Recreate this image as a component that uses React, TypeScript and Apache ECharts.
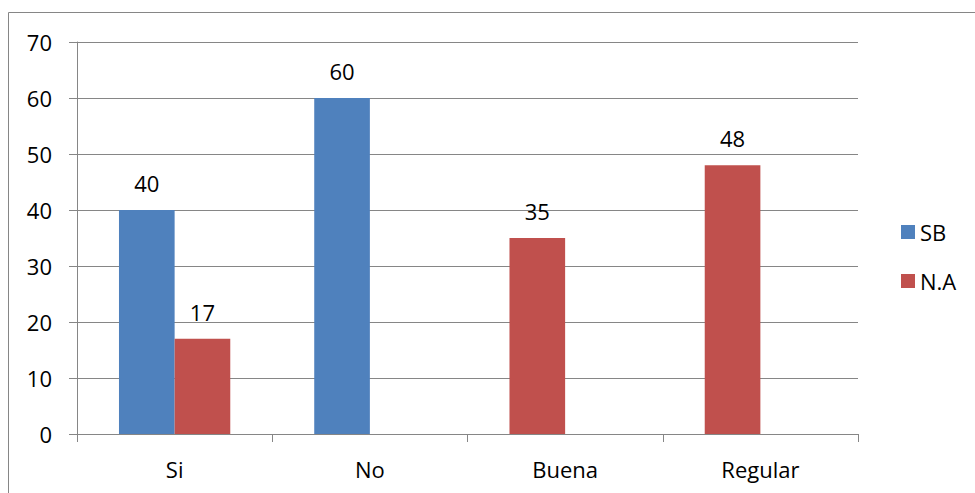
import React, { useEffect, useRef } from "react";
import * as echarts from "echarts";

const categories = ["Si", "No", "Buena", "Regular"];
const sbValues: (number | null)[] = [40, 60, null, null];
const naValues: (number | null)[] = [17, null, 35, 48];
const seriesNames = ["SB", "N.A"];
const yMin = 0;
const yMax = 70;
const yInterval = 10;

const FONT = "'Open Sans', 'Noto Sans', sans-serif";
const FS = 22;

// As in the reference, when a category has only one bar it sits in the first slot.
const naFirstSlot = naValues.map((v, i) => (sbValues[i] == null ? v : null));
const naSecondSlot = naValues.map((v, i) => (sbValues[i] != null ? v : null));

export default function App() {
  const ref = useRef<HTMLDivElement>(null);
  useEffect(() => {
    document.body.style.margin = "0";
    const chart = echarts.init(ref.current!, null, { renderer: "svg" });
    const labelCfg = {
      show: true,
      position: "top" as const,
      distance: 16,
      fontSize: FS,
      color: "#000",
      fontFamily: FONT,
    };
    const BLUE = "#4F81BD";
    const RED = "#C0504D";
    chart.setOption({
      animation: false,
      backgroundColor: "#fff",
      graphic: [
        {
          type: "rect",
          shape: { x: 8.5, y: 12.5, width: 1000, height: 1000 },
          style: { fill: "none", stroke: "#868686", lineWidth: 1 },
          silent: true,
        },
      ],
      grid: { left: 77, right: 117, top: 42, bottom: 59 },
      legend: {
        orient: "vertical",
        left: 896,
        top: 216,
        itemWidth: 14,
        itemHeight: 14,
        itemGap: 27,
        icon: "rect",
        textStyle: { fontSize: FS, color: "#000", fontFamily: FONT },
        data: seriesNames,
      },
      xAxis: {
        type: "category",
        data: categories,
        axisLine: { show: true, lineStyle: { color: "#868686", width: 1 } },
        axisTick: { show: true, length: 8, alignWithLabel: false, lineStyle: { color: "#868686" } },
        axisLabel: { fontSize: FS, color: "#000", fontFamily: FONT, margin: 24 },
        splitLine: { show: false },
      },
      yAxis: {
        type: "value",
        min: yMin,
        max: yMax,
        interval: yInterval,
        axisLine: { show: true, lineStyle: { color: "#868686", width: 1 } },
        axisTick: { show: true, length: 8, lineStyle: { color: "#868686" } },
        axisLabel: { fontSize: FS, color: "#000", fontFamily: FONT, margin: 25 },
        splitLine: { show: true, lineStyle: { color: "#868686", width: 1 } },
      },
      series: [
        {
          name: seriesNames[0],
          type: "bar",
          stack: "slot1",
          data: sbValues,
          barGap: "0%",
          barCategoryGap: "43%",
          itemStyle: { color: BLUE },
          label: labelCfg,
        },
        {
          name: seriesNames[1],
          type: "bar",
          stack: "slot1",
          data: naFirstSlot,
          barGap: "0%",
          barCategoryGap: "43%",
          itemStyle: { color: RED },
          label: labelCfg,
        },
        {
          name: seriesNames[1],
          type: "bar",
          stack: "slot2",
          data: naSecondSlot,
          barGap: "0%",
          barCategoryGap: "43%",
          itemStyle: { color: RED },
          label: labelCfg,
        },
      ],
    });
    return () => chart.dispose();
  }, []);
  return <div ref={ref} style={{ width: 975, height: 493 }} />;
}
